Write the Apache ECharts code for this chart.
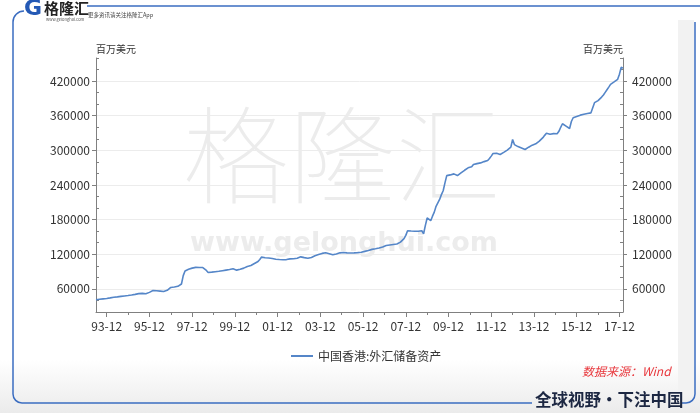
<!DOCTYPE html>
<html><head><meta charset="utf-8">
<script src="https://cdn.jsdelivr.net/npm/echarts@6/dist/echarts.min.js"></script>
<style>html,body{margin:0;padding:0;background:#fff}#c{width:700px;height:413px}</style>
</head><body><div id="c"></div>
<script>
const seriesName = '中国香港:外汇储备资产';
const unitName = '百万美元';
const sourceText = '数据来源：Wind';
const sloganText = '全球视野・下注中国';
const startYear = 1993, startMonth = 6, endYear = 2018, endMonth = 2;

const r1993 = [41200, 41600, 42000, 42400, 42800, 43100, 43500];
const r1994 = [44000, 44500, 45000, 45600, 45900, 46200, 46600, 47000, 47400, 47800, 48200, 48600];
const r1995 = [49000, 49500, 50000, 50500, 51000, 51800, 52600, 52300, 51800, 51500, 52200, 54000];
const r1996 = [56000, 57100, 57000, 56700, 56500, 56200, 55900, 55600, 55400, 57500, 60000, 62500];
const r1997 = [64100, 63300, 62300, 64500, 67000, 68500, 83000, 91000, 93500, 94000, 95000, 96000];
const r1998 = [97000, 97300, 97000, 97100, 97200, 97000, 96800, 92000, 88500, 88400, 89000, 89600];
const r1999 = [89800, 90100, 90500, 91000, 91500, 92000, 92500, 93000, 93500, 94000, 94800, 95000];
const r2000 = [92500, 93000, 94000, 95000, 96000, 97500, 98800, 99500, 100500, 102000, 104000, 106000];
const r2001 = [107500, 111000, 115100, 114500, 114000, 113800, 113500, 113400, 112800, 112000, 111500, 111200];
const r2002 = [111000, 110800, 110600, 110400, 110800, 111500, 112000, 112400, 112200, 112600, 113200, 114200];
const r2003 = [115500, 115000, 114200, 113600, 113200, 113400, 114500, 116000, 117500, 118500, 119500, 120000];
const r2004 = [121500, 123100, 122500, 122000, 121000, 120000, 119100, 119500, 120500, 121500, 122500, 123100];
const r2005 = [123100, 122800, 122500, 122400, 122300, 122200, 122400, 122600, 122800, 123100, 123500, 124300];
const r2006 = [125000, 125800, 126500, 127800, 128500, 129000, 129500, 130000, 130800, 131500, 132500, 133200];
const r2007 = [135300, 135800, 136200, 136600, 137000, 137300, 137700, 139500, 141000, 142200, 147000, 152700];
const r2008 = [160800, 160500, 160200, 160000, 159800, 159600, 159800, 160300, 160800, 155600, 170000, 182900];
const r2009 = [182500, 178200, 186000, 193000, 203000, 206000, 215000, 223300, 230000, 243600, 256300, 255800];
const r2010 = [257500, 258500, 259300, 257500, 256300, 258500, 261000, 263500, 265500, 268000, 269700, 268700];
const r2011 = [271500, 275400, 276300, 277000, 277800, 278300, 279500, 280500, 281500, 282400, 286000, 290000];
const r2012 = [294500, 296800, 295000, 294000, 292800, 294500, 296500, 298500, 300500, 303000, 305500, 318800];
const r2013 = [310000, 307200, 306500, 305500, 304000, 302500, 301500, 303500, 305500, 307200, 309000, 310500];
const r2014 = [311300, 313500, 316000, 318800, 322000, 326000, 329500, 330500, 328000, 327500, 329000, 330500];
const r2015 = [328700, 333000, 340000, 346100, 344000, 342000, 340000, 337900, 350000, 356500, 358000, 358800];
const r2016 = [360500, 361000, 361800, 362500, 363500, 364000, 364500, 365000, 365200, 382600, 385500, 386200];
const r2017 = [389000, 392300, 396000, 400500, 405000, 409500, 414300, 416500, 418500, 420500, 423000, 432000];
const r2018 = [444000, 442500];

const xMajorLabels = ['93-12','95-12','97-12','99-12','01-12','03-12','05-12','07-12','09-12','11-12','13-12','15-12','17-12'];
const yTickValues = [60000, 120000, 180000, 240000, 300000, 360000, 420000];
const yMin = 20000, yMax = 460000, yMinorStep = 20000;

const categories = [];
for (let y = startYear, m = startMonth; y < endYear || (y === endYear && m <= endMonth);) {
  categories.push(String(y % 100).padStart(2, '0') + '-' + String(m).padStart(2, '0'));
  m++; if (m > 12) { m = 1; y++; }
}
const values = [].concat(r1993, r1994, r1995, r1996, r1997, r1998, r1999, r2000, r2001, r2002, r2003, r2004, r2005,
  r2006, r2007, r2008, r2009, r2010, r2011, r2012, r2013, r2014, r2015, r2016, r2017, r2018);
const xMinorLabels = categories.filter(c => c.endsWith('-12') && !xMajorLabels.includes(c));
const yMinorValues = [];
for (let v = yMin; v <= yMax; v += yMinorStep) if (!yTickValues.includes(v)) yMinorValues.push(v);

const FONT = "'Microsoft YaHei','Noto Sans CJK SC',sans-serif";
const axisColor = '#808080';
const lineColor = '#5586c8';
const frameColor = '#3a6cc0';

function mainY(pos) {
  return {
    type: 'value', position: pos, min: yMin, max: yMax,
    name: unitName, nameLocation: 'end', nameGap: 4,
    nameTextStyle: { align: pos === 'left' ? 'left' : 'right', fontSize: 10, color: '#333', fontFamily: FONT },
    axisLine: { show: true, lineStyle: { color: axisColor } },
    axisTick: { show: true, customValues: yTickValues, length: 4, lineStyle: { color: axisColor } },
    axisLabel: { customValues: yTickValues, margin: pos === 'left' ? 6 : 9, fontSize: 12, color: '#333', fontFamily: FONT, formatter: v => String(v) },
    splitLine: { show: pos === 'left', lineStyle: { color: '#ececec' } }
  };
}
function minorY(pos) {
  return {
    type: 'value', position: pos, min: yMin, max: yMax,
    axisLine: { show: false },
    axisTick: { show: true, inside: true, customValues: yMinorValues, length: 3, lineStyle: { color: axisColor } },
    axisLabel: { show: false }, splitLine: { show: false }
  };
}
function frameArc(cx, cy, r, a0, a1) {
  return { type: 'arc', shape: { cx: cx, cy: cy, r: r, startAngle: a0, endAngle: a1, clockwise: true },
    style: { stroke: frameColor, lineWidth: 1.5, fill: null } };
}
function frameLine(x1, y1, x2, y2) {
  return { type: 'line', shape: { x1: x1, y1: y1, x2: x2, y2: y2 }, style: { stroke: frameColor, lineWidth: 1.5 } };
}

const chart = echarts.init(document.getElementById('c'), null, { renderer: 'canvas' });
chart.setOption({
  animation: false,
  backgroundColor: '#fff',
  grid: { left: 96, right: 77, top: 58, bottom: 101, containLabel: false },
  xAxis: [
    {
      type: 'category', data: categories, boundaryGap: false, position: 'bottom',
      axisLine: { lineStyle: { color: axisColor } },
      axisTick: { interval: (i, v) => xMajorLabels.includes(v), length: 5, lineStyle: { color: axisColor } },
      axisLabel: { interval: (i, v) => xMajorLabels.includes(v), margin: 8, fontSize: 12, color: '#333', fontFamily: FONT },
      splitLine: { show: false }
    },
    {
      type: 'category', data: categories, boundaryGap: false, position: 'bottom',
      axisLine: { show: false },
      axisTick: { interval: (i, v) => xMinorLabels.includes(v), length: 3, lineStyle: { color: axisColor } },
      axisLabel: { show: false }, splitLine: { show: false }
    }
  ],
  yAxis: [mainY('left'), mainY('right'), minorY('left'), minorY('right')],
  legend: {
    data: [{ name: seriesName, icon: 'rect' }], left: 286, top: 345, itemWidth: 22, itemHeight: 2, itemGap: 5,
    textStyle: { fontSize: 12, color: '#333', fontFamily: FONT }
  },
  series: [{
    type: 'line', name: seriesName, data: values, xAxisIndex: 0, yAxisIndex: 0,
    symbol: 'none', showSymbol: false, z: 5,
    lineStyle: { color: lineColor, width: 1.6 }, itemStyle: { color: lineColor }
  }],
  graphic: [
    { type: 'rect', z: -10, shape: { x: 0, y: 360, width: 700, height: 53 },
      style: { fill: { type: 'linear', x: 0, y: 0, x2: 0, y2: 1, colorStops: [{ offset: 0, color: '#ffffff' }, { offset: 1, color: '#ebebeb' }] } } },
    { type: 'rect', z: -10, shape: { x: 678, y: 20, width: 16, height: 375 }, style: { fill: '#f2f2f2' } },
    { type: 'text', z: -5, x: 183, y: 102, style: { text: '格隆汇', fontSize: 106, fontWeight: 'lighter', fill: '#ececec', fontFamily: FONT } },
    { type: 'text', z: -5, x: 190, y: 230, style: { text: 'www.gelonghui.com', fontSize: 27, fontWeight: 'bold', fill: '#ececec', fontFamily: "'DejaVu Sans',sans-serif" } },
    frameLine(87, 6, 700, 6),
    frameArc(24, 22, 11, Math.PI, Math.PI * 1.5),
    frameLine(13, 22, 13, 394),
    frameArc(22, 394, 9, Math.PI * 0.5, Math.PI),
    frameLine(22, 403, 532, 403),
    frameLine(682, 403, 686, 403),
    frameArc(686, 394, 9, 0, Math.PI * 0.5),
    frameLine(695, 394, 695, 22),
    { type: 'text', x: 24, y: -2, style: { text: 'G', fontSize: 22, fontWeight: 'bold', fill: '#2459b5', fontFamily: "'DejaVu Sans',sans-serif" } },
    { type: 'text', x: 44, y: 1, style: { text: '格隆汇', fontSize: 15, fontWeight: 'bold', fill: '#222', fontFamily: FONT } },
    { type: 'text', x: 46, y: 17, style: { text: 'www.gelonghui.com', fontSize: 4, fill: '#555', fontFamily: FONT } },
    { type: 'text', x: 88, y: 12, style: { text: '更多资讯请关注格隆汇App', fontSize: 5.5, fill: '#444', fontFamily: FONT } },
    { type: 'text', x: 582, y: 365, style: { text: sourceText, fontSize: 12, fontStyle: 'italic', fill: '#e8383d', fontFamily: FONT } },
    { type: 'text', x: 535, y: 391, style: { text: sloganText, fontSize: 16.5, fontWeight: 'bold', fill: '#1c2742', fontFamily: FONT } }
  ]
});
</script></body></html>
